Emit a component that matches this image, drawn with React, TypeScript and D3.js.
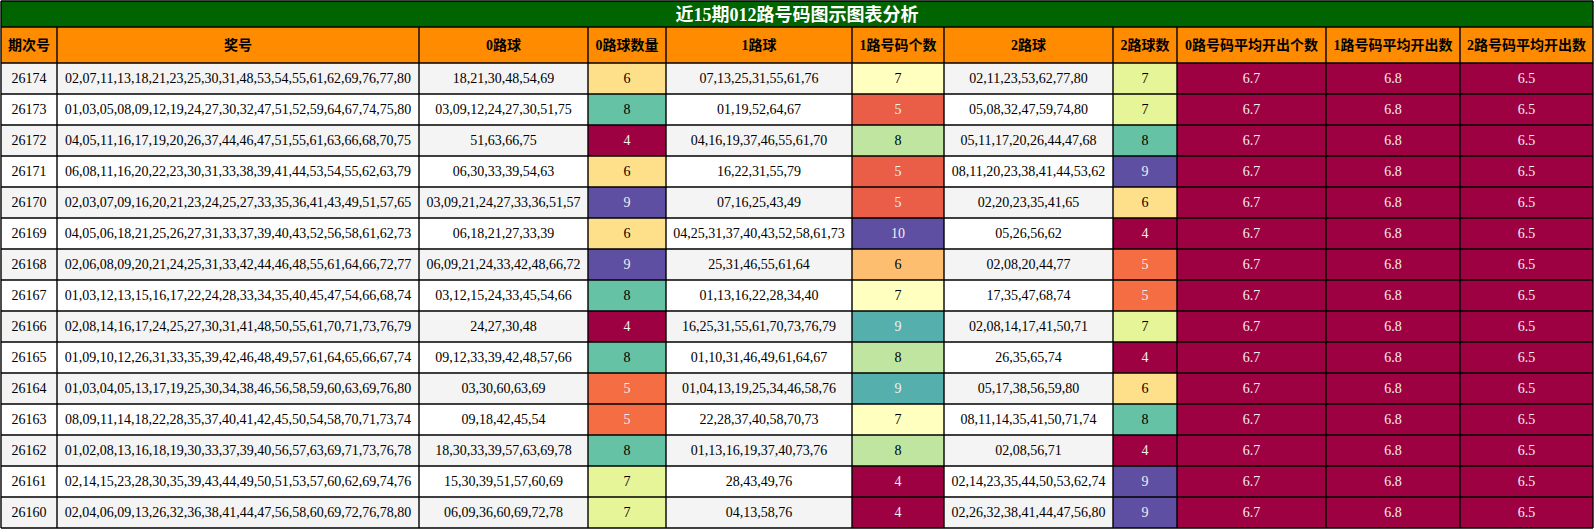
import { useEffect } from "react";
import * as d3 from "d3";

const title = "近15期012路号码图示图表分析";

const headers = [
  "期次号", "奖号", "0路球", "0路球数量", "1路球", "1路号码个数",
  "2路球", "2路球数", "0路号码平均开出个数", "1路号码平均开出数", "2路号码平均开出数",
];

const periods = [
  "26174", "26173", "26172", "26171", "26170", "26169", "26168", "26167",
  "26166", "26165", "26164", "26163", "26162", "26161", "26160",
];

const draws = [
  "02,07,11,13,18,21,23,25,30,31,48,53,54,55,61,62,69,76,77,80",
  "01,03,05,08,09,12,19,24,27,30,32,47,51,52,59,64,67,74,75,80",
  "04,05,11,16,17,19,20,26,37,44,46,47,51,55,61,63,66,68,70,75",
  "06,08,11,16,20,22,23,30,31,33,38,39,41,44,53,54,55,62,63,79",
  "02,03,07,09,16,20,21,23,24,25,27,33,35,36,41,43,49,51,57,65",
  "04,05,06,18,21,25,26,27,31,33,37,39,40,43,52,56,58,61,62,73",
  "02,06,08,09,20,21,24,25,31,33,42,44,46,48,55,61,64,66,72,77",
  "01,03,12,13,15,16,17,22,24,28,33,34,35,40,45,47,54,66,68,74",
  "02,08,14,16,17,24,25,27,30,31,41,48,50,55,61,70,71,73,76,79",
  "01,09,10,12,26,31,33,35,39,42,46,48,49,57,61,64,65,66,67,74",
  "01,03,04,05,13,17,19,25,30,34,38,46,56,58,59,60,63,69,76,80",
  "08,09,11,14,18,22,28,35,37,40,41,42,45,50,54,58,70,71,73,74",
  "01,02,08,13,16,18,19,30,33,37,39,40,56,57,63,69,71,73,76,78",
  "02,14,15,23,28,30,35,39,43,44,49,50,51,53,57,60,62,69,74,76",
  "02,04,06,09,13,26,32,36,38,41,44,47,56,58,60,69,72,76,78,80",
];

const road0 = [
  "18,21,30,48,54,69", "03,09,12,24,27,30,51,75", "51,63,66,75", "06,30,33,39,54,63",
  "03,09,21,24,27,33,36,51,57", "06,18,21,27,33,39", "06,09,21,24,33,42,48,66,72",
  "03,12,15,24,33,45,54,66", "24,27,30,48", "09,12,33,39,42,48,57,66", "03,30,60,63,69",
  "09,18,42,45,54", "18,30,33,39,57,63,69,78", "15,30,39,51,57,60,69", "06,09,36,60,69,72,78",
];
const road1 = [
  "07,13,25,31,55,61,76", "01,19,52,64,67", "04,16,19,37,46,55,61,70", "16,22,31,55,79",
  "07,16,25,43,49", "04,25,31,37,40,43,52,58,61,73", "25,31,46,55,61,64",
  "01,13,16,22,28,34,40", "16,25,31,55,61,70,73,76,79", "01,10,31,46,49,61,64,67",
  "01,04,13,19,25,34,46,58,76", "22,28,37,40,58,70,73", "01,13,16,19,37,40,73,76",
  "28,43,49,76", "04,13,58,76",
];
const road2 = [
  "02,11,23,53,62,77,80", "05,08,32,47,59,74,80", "05,11,17,20,26,44,47,68",
  "08,11,20,23,38,41,44,53,62", "02,20,23,35,41,65", "05,26,56,62", "02,08,20,44,77",
  "17,35,47,68,74", "02,08,14,17,41,50,71", "26,35,65,74", "05,17,38,56,59,80",
  "08,11,14,35,41,50,71,74", "02,08,56,71", "02,14,23,35,44,50,53,62,74",
  "02,26,32,38,41,44,47,56,80",
];

const count0 = [6, 8, 4, 6, 9, 6, 9, 8, 4, 8, 5, 5, 8, 7, 7];
const count1 = [7, 5, 8, 5, 5, 10, 6, 7, 9, 8, 9, 7, 8, 4, 4];
const count2 = [7, 7, 8, 9, 6, 4, 5, 5, 7, 4, 6, 8, 4, 9, 9];

const avg0 = 6.7;
const avg1 = 6.8;
const avg2 = 6.5;

// column edges in px
const colEdges = [1, 57, 419, 588, 666, 852, 944, 1113, 1177, 1326, 1460, 1593];
const W = 1594;
const H = 529;
const titleH = 27;
const headH = 36;
const tableBottom = 528;

const FONT = "'Liberation Serif', 'Noto Sans CJK SC', serif";

// linear segments through the 11 Spectral stops (like matplotlib's Spectral)
const spectral = d3.piecewise(d3.interpolateRgb, d3.schemeSpectral[11]);

function gradient(vals: number[]) {
  const [lo, hi] = d3.extent(vals) as [number, number];
  return (v: number) => spectral(hi === lo ? 0 : (v - lo) / (hi - lo));
}

function textColor(bg: string) {
  const c = d3.rgb(bg);
  const lin = (x: number) => {
    const s = x / 255;
    return s <= 0.03928 ? s / 12.92 : Math.pow((s + 0.055) / 1.055, 2.4);
  };
  const L = 0.2126 * lin(c.r) + 0.7152 * lin(c.g) + 0.0722 * lin(c.b);
  return L < 0.408 ? "#f1f1f1" : "#000000";
}

type Cell = { text: string; bg: string | null };

export default function App() {
  useEffect(() => {
    document.body.style.margin = "0";
  }, []);

  const y = d3.scaleBand<string>().domain(periods).range([titleH + headH, tableBottom]);
  const c0 = gradient(count0);
  const c1 = gradient(count1);
  const c2 = gradient(count2);
  const cA0 = gradient(periods.map(() => avg0));
  const cA1 = gradient(periods.map(() => avg1));
  const cA2 = gradient(periods.map(() => avg2));

  const rows: Cell[][] = periods.map((p, i) => [
    { text: p, bg: null },
    { text: draws[i], bg: null },
    { text: road0[i], bg: null },
    { text: String(count0[i]), bg: c0(count0[i]) },
    { text: road1[i], bg: null },
    { text: String(count1[i]), bg: c1(count1[i]) },
    { text: road2[i], bg: null },
    { text: String(count2[i]), bg: c2(count2[i]) },
    { text: avg0.toFixed(1), bg: cA0(avg0) },
    { text: avg1.toFixed(1), bg: cA1(avg1) },
    { text: avg2.toFixed(1), bg: cA2(avg2) },
  ]);

  const stroke = "#000";
  const sw = 1.4;

  return (
    <svg width={W} height={H} style={{ position: "absolute", left: 0, top: 0, display: "block" }} fontFamily={FONT}>
      <rect x={0} y={0} width={W} height={H} fill="#fff" />
      {/* title */}
      <rect x={colEdges[0]} y={1} width={colEdges[colEdges.length - 1] - colEdges[0]} height={titleH - 1} fill="#006400" />
      <text x={W / 2} y={titleH / 2 + 1} textAnchor="middle" dominantBaseline="central" fontSize={18} fontWeight="bold" fill="#fff">
        {title}
      </text>
      {/* header */}
      {headers.map((h, j) => (
        <g key={h}>
          <rect x={colEdges[j]} y={titleH} width={colEdges[j + 1] - colEdges[j]} height={headH} fill="#ff8c00" />
          <text x={(colEdges[j] + colEdges[j + 1]) / 2} y={titleH + headH / 2} textAnchor="middle" dominantBaseline="central" fontSize={14} fontWeight="bold" fill="#000">
            {h}
          </text>
        </g>
      ))}
      {/* body */}
      {rows.map((row, i) => {
        const y0 = y(periods[i])!;
        const rh = y.bandwidth();
        const base = i % 2 === 0 ? "#f4f4f4" : "#ffffff";
        return (
          <g key={periods[i]}>
            {row.map((cell, j) => {
              const bg = cell.bg ?? base;
              return (
                <g key={j}>
                  <rect x={colEdges[j]} y={y0} width={colEdges[j + 1] - colEdges[j]} height={rh} fill={bg} />
                  <text x={(colEdges[j] + colEdges[j + 1]) / 2} y={y0 + rh / 2} textAnchor="middle" dominantBaseline="central" fontSize={14} fill={cell.bg ? textColor(bg) : "#000"}>
                    {cell.text}
                  </text>
                </g>
              );
            })}
          </g>
        );
      })}
      {/* grid */}
      <g stroke={stroke} strokeWidth={sw}>
        <line x1={colEdges[0]} x2={colEdges[11]} y1={1} y2={1} />
        <line x1={colEdges[0]} x2={colEdges[11]} y1={titleH} y2={titleH} />
        <line x1={colEdges[0]} x2={colEdges[11]} y1={titleH + headH} y2={titleH + headH} />
        {periods.map((p) => (
          <line key={p} x1={colEdges[0]} x2={colEdges[11]} y1={y(p)! + y.bandwidth()} y2={y(p)! + y.bandwidth()} />
        ))}
        <line x1={colEdges[0]} x2={colEdges[0]} y1={1} y2={tableBottom} />
        <line x1={colEdges[11]} x2={colEdges[11]} y1={1} y2={tableBottom} />
        {colEdges.slice(1, -1).map((x) => (
          <line key={x} x1={x} x2={x} y1={titleH} y2={tableBottom} />
        ))}
      </g>
    </svg>
  );
}
